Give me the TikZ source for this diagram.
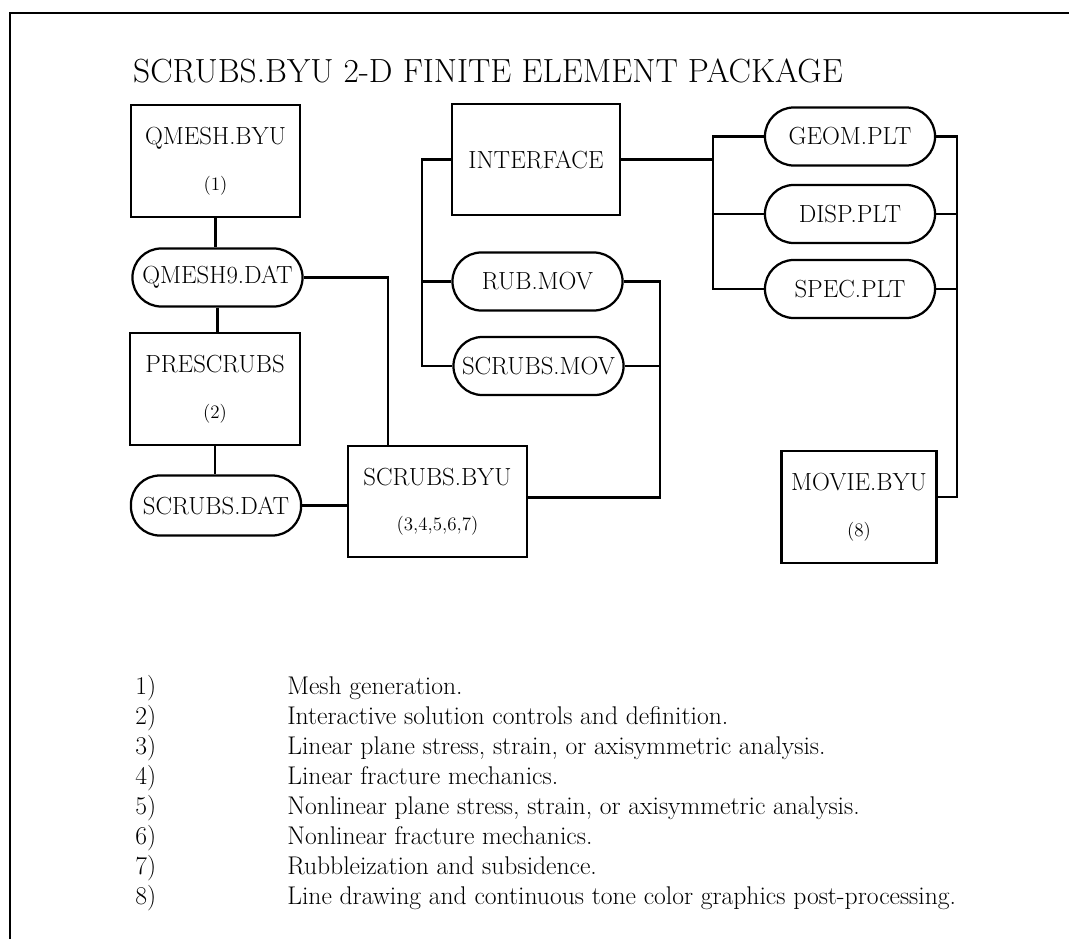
\documentclass[tikz,border=0pt]{standalone}
\usepackage{xcolor}
\usepackage{tikz}
\usetikzlibrary{positioning,calc}
\newcommand{\boxfont}{\fontsize{17.6}{21}\selectfont}
\newcommand{\numfont}{\fontsize{13.5}{16}\selectfont}
\newcommand{\listfont}{\fontsize{18.2}{22}\selectfont}
\tikzset{
  progbox/.style={draw, line width=1.6pt, minimum width=4.2cm, minimum height=2.8cm,
                  align=center, font=\boxfont, inner sep=0pt},
  datfile/.style={draw, line width=1.6pt, rounded corners=0.72cm, minimum width=4.25cm,
                  minimum height=1.45cm, font=\boxfont, inner sep=0pt},
  wire/.style={line width=1.6pt},
  itemno/.style={anchor=base west, font=\listfont, inner sep=0pt},
  itemtxt/.style={anchor=base west, font=\listfont, inner sep=0pt},
}

\begin{document}
\begin{tikzpicture}[x=0.025cm, y=-0.025cm]
    \useasboundingbox (0,0) rectangle (1069,939);
    \draw[line width=1.6pt] (10,939) -- (10,13) -- (1069,13);
    \node[font=\fontsize{23.8}{28}\selectfont] (title) at (488,71) {SCRUBS.BYU 2-D FINITE ELEMENT PACKAGE};

    \node[progbox, minimum width=4.225cm] (qmesh) at (215.5,161) {QMESH.BYU\\[0.4cm]{\numfont (1)}};
    \node[datfile] (qmesh9) at (217.5,277.5) {QMESH9.DAT};
    \node[progbox, minimum width=4.25cm] (prescrubs) at (215,389) {PRESCRUBS\\[0.4cm]{\numfont (2)}};
    \node[datfile, minimum height=1.5cm] (scrubsdat) at (216,505.5) {SCRUBS.DAT};
    \node[progbox, minimum width=4.475cm, minimum height=2.775cm] (scrubsbyu) at (437.5,501.5) {SCRUBS.BYU\\[0.4cm]{\numfont (3,4,5,6,7)}};

    \node[progbox, minimum height=2.775cm] (interface) at (536,159.5) {INTERFACE};
    \node[datfile] (rubmov) at (537.5,281.5) {RUB.MOV};
    \node[datfile] (scrubsmov) at (538.5,366) {SCRUBS.MOV};

    \node[datfile] (geom) at (850,136.5) {GEOM.PLT};
    \node[datfile] (disp) at (850,214) {DISP.PLT};
    \node[datfile] (spec) at (850,289) {SPEC.PLT};
    \node[progbox, minimum width=3.875cm] (movie) at (859,507) {MOVIE.BYU\\[0.4cm]{\numfont (8)}};

    \draw[wire] (qmesh.south) -- (qmesh.south |- qmesh9.north);
    \draw[wire] (qmesh9.south) -- (qmesh9.south |- prescrubs.north);
    \draw[wire] (prescrubs.south) -- (prescrubs.south |- scrubsdat.north);
    \draw[wire] (qmesh9.east) -| ([xshift=-1.24cm]scrubsbyu.north);
    \draw[wire] (scrubsdat.east) -- (scrubsdat.east -| scrubsbyu.west);

    \draw[wire] (interface.west) -- ++(-0.725cm,0) coordinate (ifbus) |- (scrubsmov.west);
    \draw[wire] (rubmov.west) -- (rubmov.west -| ifbus);
    \draw[wire] (rubmov.east) -- ++(0.9cm,0) coordinate (movbus) |- ([yshift=0.1cm]scrubsbyu.east);
    \draw[wire] (scrubsmov.east) -- (scrubsmov.east -| movbus);

    \draw[wire] (geom.west) -- ++(-1.275cm,0) coordinate (pltbus) |- (spec.west);
    \draw[wire] (disp.west) -- (disp.west -| pltbus);
    \draw[wire] (interface.east) -- (interface.east -| pltbus);
    \draw[wire] (geom.east) -- ++(0.525cm,0) coordinate (plotbus) |- ([yshift=0.25cm]movie.east);
    \draw[wire] (disp.east) -- (disp.east -| plotbus);
    \draw[wire] (spec.east) -- (spec.east -| plotbus);

    \node[itemno] (n1) at (135,694) {1)};
    \node[itemtxt] (t1) at (287,694) {Mesh generation.};
    \node[itemno] (n2) at (135,724) {2)};
    \node[itemtxt] (t2) at (287,724) {Interactive solution controls and definition.};
    \node[itemno] (n3) at (135,754) {3)};
    \node[itemtxt] (t3) at (287,754) {Linear plane stress, strain, or axisymmetric analysis.};
    \node[itemno] (n4) at (135,784) {4)};
    \node[itemtxt] (t4) at (287,784) {Linear fracture mechanics.};
    \node[itemno] (n5) at (135,814) {5)};
    \node[itemtxt] (t5) at (287,814) {Nonlinear plane stress, strain, or axisymmetric analysis.};
    \node[itemno] (n6) at (135,844) {6)};
    \node[itemtxt] (t6) at (287,844) {Nonlinear fracture mechanics.};
    \node[itemno] (n7) at (135,874) {7)};
    \node[itemtxt] (t7) at (287,874) {Rubbleization and subsidence.};
    \node[itemno] (n8) at (135,904) {8)};
    \node[itemtxt] (t8) at (287,904) {Line drawing and continuous tone color graphics post-processing.};
  \end{tikzpicture}
\end{document}
